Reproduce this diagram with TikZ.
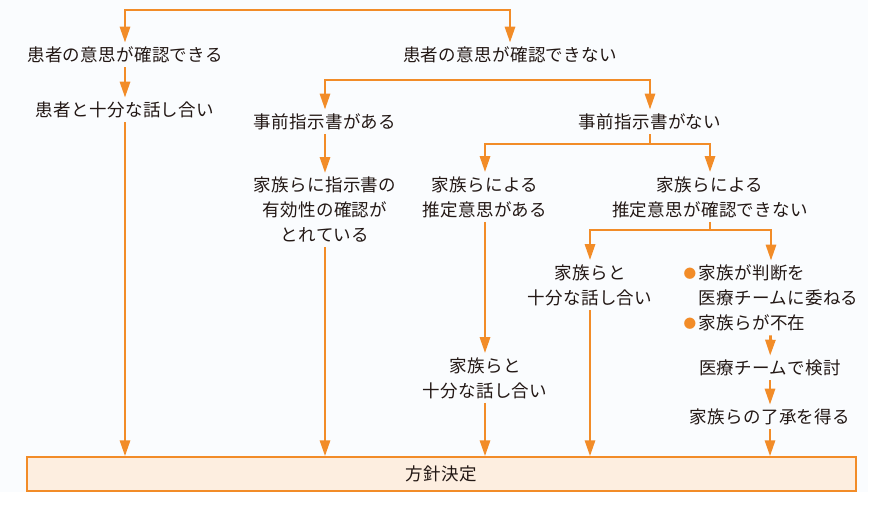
\documentclass[tikz,border=0pt]{standalone}
\usepackage{fontspec}
\usepackage{graphicx}
\setmainfont{Noto Sans CJK JP}[LetterSpace=2]
\usetikzlibrary{arrows.meta}
\definecolor{org}{HTML}{F28C28}
\definecolor{boxfill}{HTML}{FDEEE0}
\definecolor{bgc}{HTML}{FAFCFE}
\definecolor{txt}{HTML}{231815}
\newcommand{\obul}{\makebox[15pt][l]{\raisebox{1pt}{\scalebox{0.72}{\textcolor{org}{●}}}}}
\newcommand{\nobul}{\makebox[15pt][l]{}}
\begin{document}
\begin{tikzpicture}[x=1pt,y=-1pt,
  lbl/.style={font=\fontsize{17.5}{25}\selectfont, text=txt, align=center, inner xsep=2pt, inner ysep=4pt},
  conn/.style={draw=org, line width=2.8pt},
  arr/.style={conn, -{Triangle[width=10pt,length=16pt]}},
  dbl/.style={conn, {Triangle[width=10pt,length=16pt]}-{Triangle[width=10pt,length=16pt]}},
  finalbox/.style={draw=org, line width=1.3pt, fill=boxfill, minimum width=829pt, minimum height=34pt, inner sep=0pt, font=\fontsize{17.5}{25}\selectfont, text=txt}
]
\useasboundingbox (0,0) rectangle (883,506);
\fill[bgc] (0,0) rectangle (868,492);

\node[lbl] (A) at (125,55) {患者の意思が確認できる};
\node[lbl] (B) at (510,55) {患者の意思が確認できない};
\node[lbl] (A2) at (125,110) {患者と十分な話し合い};
\node[lbl] (C) at (325,122) {事前指示書がある};
\node[lbl] (D) at (650,122) {事前指示書がない};
\node[lbl] (E) at (325,210) {家族らに指示書の\\有効性の確認が\\とれている};
\node[lbl] (F) at (485,197) {家族らによる\\推定意思がある};
\node[lbl] (G) at (710,197) {家族らによる\\推定意思が確認できない};
\node[lbl] (F2) at (485,378) {家族らと\\十分な話し合い};
\node[lbl] (H) at (590,285) {家族らと\\十分な話し合い};
\node[lbl, align=left] (I) at (771,298) {\obul 家族が判断を\\\nobul 医療チームに委ねる\\\obul 家族らが不在};
\node[lbl] (J) at (770,368) {医療チームで検討};
\node[lbl] (K) at (770,417) {家族らの了承を得る};
\node[finalbox] (Z) at (441.5,474) {方針決定};

\coordinate (barTop) at (0,10);
\coordinate (barB) at (0,80);
\coordinate (barD) at (650,144);
\coordinate (barG) at (710,230);

\draw[dbl] (A.north) -- (A.north |- barTop) -- (B.north |- barTop) -- (B.north);
\draw[arr] (A) -- (A2);
\draw[arr] (A2.south) -- (A2.south |- Z.north);

\draw[dbl] (C.north) -- (C.north |- barB) -- (D.north |- barB) -- (D.north);
\draw[arr] (C) -- (E);
\draw[arr] (E.south) -- (E.south |- Z.north);

\draw[conn] (D.south) -- (barD);
\draw[dbl] (F.north) |- (barD) -| (G.north);
\draw[arr] (F) -- (F2);
\draw[arr] (F2.south) -- (F2.south |- Z.north);

\draw[conn] (G.south) -- (barG);
\draw[dbl] (H.north) |- (barG) -| (I.north);
\draw[arr] (H.south) -- (H.south |- Z.north);

\draw[arr] (I) -- (J);
\draw[arr] (J) -- (K);
\draw[arr] (K.south) -- (K.south |- Z.north);
\end{tikzpicture}
\end{document}
